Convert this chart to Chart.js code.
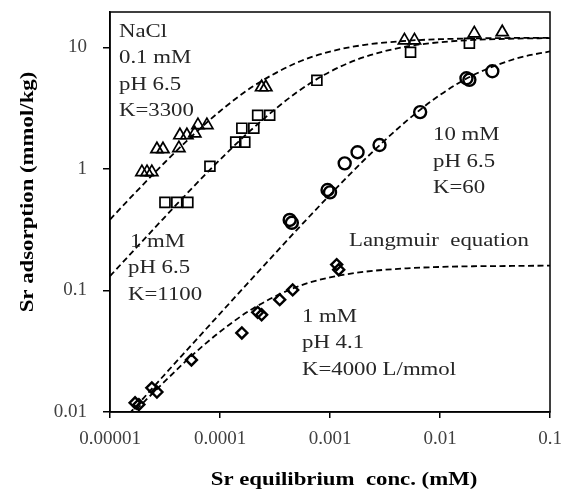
<!DOCTYPE html>
<html>
<head>
<meta charset="utf-8">
<script src="https://cdn.jsdelivr.net/npm/chart.js@4/dist/chart.umd.min.js"></script>
<style>
  body { margin: 0; background: #fff; }
</style>
</head>
<body>
<canvas id="srChart" width="566" height="490"></canvas>
<script>
// measured points (x = Sr equilibrium conc. mM, y = Sr adsorption mmol/kg)
const triX = [1.95e-5, 2.17e-5, 2.4e-5, 2.67e-5, 3.03e-5, 4.23e-5, 4.32e-5, 5.0e-5, 5.9e-5, 6.3e-5, 7.6e-5, 2.39e-4, 2.61e-4, 4.75e-3, 5.86e-3, 0.0205, 0.0368];
const triY = [0.94, 0.94, 0.94, 1.45, 1.45, 1.48, 1.89, 1.89, 1.96, 2.29, 2.29, 4.69, 4.69, 11.4, 11.4, 13.0, 13.3];

const sqX = [3.16e-5, 4.05e-5, 5.1e-5, 8.1e-5, 1.39e-4, 1.68e-4, 1.58e-4, 2.03e-4, 2.2e-4, 2.83e-4, 7.6e-4, 5.4e-3, 0.0185];
const sqY = [0.53, 0.53, 0.53, 1.05, 1.66, 1.66, 2.16, 2.16, 2.76, 2.76, 5.35, 9.1, 10.8];

const circX = [4.3e-4, 4.5e-4, 9.5e-4, 1.0e-3, 1.36e-3, 1.78e-3, 2.82e-3, 6.6e-3, 0.0174, 0.0185, 0.0299];
const circY = [0.38, 0.36, 0.67, 0.64, 1.11, 1.37, 1.57, 2.93, 5.56, 5.4, 6.35];

const diaX = [1.69e-5, 1.83e-5, 2.4e-5, 2.67e-5, 5.5e-5, 1.58e-4, 2.2e-4, 2.39e-4, 3.49e-4, 4.58e-4, 1.15e-3, 1.2e-3];
const diaY = [0.0119, 0.0115, 0.0158, 0.0146, 0.0268, 0.0447, 0.066, 0.063, 0.084, 0.101, 0.163, 0.148];

// dashed Langmuir curves
const fitX = [1e-5, 1.5e-5, 2e-5, 3e-5, 5e-5, 1e-4, 2e-4, 5e-4, 1e-3, 2e-3, 5e-3, 0.01, 0.02, 0.05, 0.1];
const fitK3300 = [0.383, 0.566, 0.743, 1.08, 1.70, 2.98, 4.77, 7.47, 9.21, 10.42, 11.31, 11.65, 11.82, 11.93, 11.96];
const fitK1100 = [0.131, 0.195, 0.258, 0.383, 0.626, 1.19, 2.16, 4.26, 6.29, 8.25, 10.15, 11.0, 11.48, 11.79, 11.89];
const fitK60 = [0.0065, 0.0097, 0.0129, 0.0194, 0.0323, 0.0644, 0.128, 0.315, 0.611, 1.16, 2.49, 4.05, 5.89, 8.1, 9.26];
const fitK4000 = [0.0062, 0.0091, 0.0119, 0.0171, 0.0267, 0.0457, 0.0711, 0.107, 0.128, 0.142, 0.152, 0.156, 0.158, 0.159, 0.160];

const xTickValues = [0.00001, 0.0001, 0.001, 0.01, 0.1];
const xTickLabels = ['0.00001', '0.0001', '0.001', '0.01', '0.1'];
const yTickValues = [0.01, 0.1, 1, 10];
const yTickLabels = ['0.01', '0.1', '1', '10'];

const xTitle = 'Sr equilibrium  conc. (mM)';
const yTitle = 'Sr adsorption (mmol/kg)';

// text boxes placed on the plot
const notes = [
  { text: 'NaCl', x: 119, y: 37 },
  { text: '0.1 mM', x: 119, y: 63 },
  { text: 'pH 6.5', x: 119, y: 90 },
  { text: 'K=3300', x: 119, y: 116 },
  { text: '1 mM', x: 130, y: 247 },
  { text: 'pH 6.5', x: 128, y: 273 },
  { text: 'K=1100', x: 128, y: 300 },
  { text: '10 mM', x: 433, y: 140 },
  { text: 'pH 6.5', x: 433, y: 167 },
  { text: 'K=60', x: 433, y: 193 },
  { text: 'Langmuir  equation', x: 349, y: 246 },
  { text: '1 mM', x: 302, y: 322 },
  { text: 'pH 4.1', x: 302, y: 348 },
  { text: 'K=4000 L/mmol', x: 302, y: 375 }
];

const toPoints = (xs, ys) => xs.map((x, i) => ({ x: x, y: ys[i] }));

const markerSet = (label, xs, ys, style, r, bw) => ({
  label: label,
  data: toPoints(xs, ys),
  showLine: false,
  pointStyle: style,
  pointRadius: r,
  pointHoverRadius: r,
  pointBorderWidth: bw,
  borderColor: '#000',
  backgroundColor: 'rgba(0,0,0,0)'
});

const curveSet = (label, ys) => ({
  label: label,
  data: toPoints(fitX, ys),
  showLine: true,
  pointRadius: 0,
  borderColor: '#000',
  borderWidth: 1.8,
  borderDash: [6, 3.5],
  cubicInterpolationMode: 'monotone',
  fill: false
});

const stretchText = (ctx, text, x, y, sx) => {
  ctx.save();
  ctx.translate(x, y);
  ctx.scale(sx, 1);
  ctx.fillText(text, 0, 0);
  ctx.restore();
};

const framePlugin = {
  id: 'frameAndNotes',
  afterDraw(chart) {
    const ctx = chart.ctx;
    const a = chart.chartArea;
    ctx.save();
    ctx.strokeStyle = '#000';
    ctx.lineWidth = 1.5;
    ctx.strokeRect(a.left, a.top, a.right - a.left, a.bottom - a.top);

    ctx.fillStyle = '#262626';
    ctx.font = '19px "Liberation Serif"';
    ctx.textAlign = 'left';
    ctx.textBaseline = 'alphabetic';
    notes.forEach(n => stretchText(ctx, n.text, n.x, n.y, 1.2));

    ctx.fillStyle = '#000';
    ctx.font = 'bold 19px "Liberation Serif"';
    ctx.textAlign = 'center';
    stretchText(ctx, xTitle, 344, 485, 1.2);

    ctx.translate(33, 192);
    ctx.rotate(-Math.PI / 2);
    stretchText(ctx, yTitle, 0, 0, 1.2);
    ctx.restore();
  }
};

new Chart(document.getElementById('srChart'), {
  type: 'scatter',
  data: {
    datasets: [
      markerSet('0.1 mM pH 6.5', triX, triY, 'triangle', 7, 1.7),
      markerSet('1 mM pH 6.5', sqX, sqY, 'rect', 7, 1.7),
      markerSet('10 mM pH 6.5', circX, circY, 'circle', 6, 2.4),
      markerSet('1 mM pH 4.1', diaX, diaY, 'rectRot', 5.5, 2.4),
      curveSet('K=3300', fitK3300),
      curveSet('K=1100', fitK1100),
      curveSet('K=60', fitK60),
      curveSet('K=4000', fitK4000)
    ]
  },
  options: {
    responsive: false,
    animation: false,
    layout: { padding: { left: 0, right: 16, top: 12, bottom: 0 } },
    plugins: {
      legend: { display: false },
      tooltip: { enabled: false }
    },
    scales: {
      x: {
        type: 'logarithmic',
        min: 0.00001,
        max: 0.1,
        afterBuildTicks: (scale) => { scale.ticks = xTickValues.map(v => ({ value: v })); },
        afterFit: (scale) => {
          scale.height = 78;
          scale.paddingLeft = 0;
          scale.paddingRight = 0;
        },
        grid: { drawOnChartArea: false, drawTicks: true, tickLength: 6, color: '#000', lineWidth: 1.5 },
        border: { display: true, color: '#000', width: 1.5 },
        ticks: {
          autoSkip: false,
          maxRotation: 0,
          padding: 10,
          color: '#404040',
          font: { family: 'Liberation Serif', size: 19 },
          callback: (v) => {
            const i = xTickValues.findIndex(t => Math.abs(t - v) / t < 1e-6);
            return i >= 0 ? xTickLabels[i] : '';
          }
        }
      },
      y: {
        type: 'logarithmic',
        min: 0.01,
        max: 19.5,
        afterBuildTicks: (scale) => { scale.ticks = yTickValues.map(v => ({ value: v })); },
        afterFit: (scale) => {
          scale.width = 110;
          scale.paddingTop = 0;
          scale.paddingBottom = 0;
        },
        grid: { drawOnChartArea: false, drawTicks: true, tickLength: 7, color: '#000', lineWidth: 1.5 },
        border: { display: true, color: '#000', width: 1.5 },
        ticks: {
          autoSkip: false,
          padding: 16,
          color: '#404040',
          font: { family: 'Liberation Serif', size: 19 },
          callback: (v) => {
            const i = yTickValues.findIndex(t => Math.abs(t - v) / t < 1e-6);
            return i >= 0 ? yTickLabels[i] : '';
          }
        }
      }
    }
  },
  plugins: [framePlugin]
});
</script>
</body>
</html>
